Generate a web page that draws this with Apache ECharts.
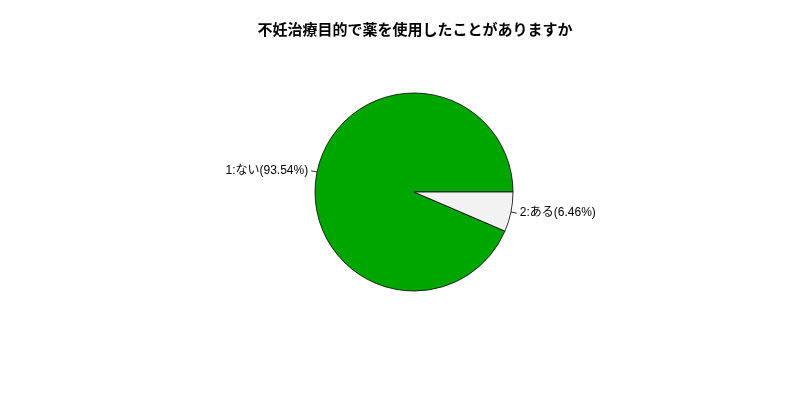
<!DOCTYPE html>
<html>
<head>
<meta charset="utf-8">
<script src="https://cdn.jsdelivr.net/npm/echarts@6/dist/echarts.min.js"></script>
<style>
html,body{margin:0;padding:0;background:#fff;}
#c{width:800px;height:400px;}
</style>
</head>
<body>
<div id="c"></div>
<script>
const title = '不妊治療目的で薬を使用したことがありますか';
const categories = ['1:ない', '2:ある'];
const values = [93.54, 6.46];
const colors = ['#00A600', '#F2F2F2'];

const chart = echarts.init(document.getElementById('c'), null, {renderer: 'canvas'});
const font = "'Liberation Sans', 'Noto Sans CJK JP', sans-serif";
chart.setOption({
  animation: false,
  backgroundColor: '#ffffff',
  title: {
    text: title,
    left: 410,
    textAlign: 'center',
    top: 18,
    textStyle: {fontSize: 15, fontWeight: 'bold', color: '#000', fontFamily: font}
  },
  series: [{
    type: 'pie',
    center: [414, 192],
    radius: 99,
    startAngle: 0,
    clockwise: false,
    data: categories.map((n, i) => ({name: n, value: values[i], itemStyle: {color: colors[i]}})),
    itemStyle: {borderColor: '#000', borderWidth: 0.8},
    label: {
      show: true,
      formatter: p => p.name + '(' + p.value.toFixed(2) + '%)',
      color: '#000',
      fontSize: 12,
      fontFamily: font,
      distanceToLabelLine: 3
    },
    labelLine: {show: true, length: 6, length2: 0, lineStyle: {color: '#000', width: 0.8}},
    emphasis: {disabled: true}
  }]
});
</script>
</body>
</html>
